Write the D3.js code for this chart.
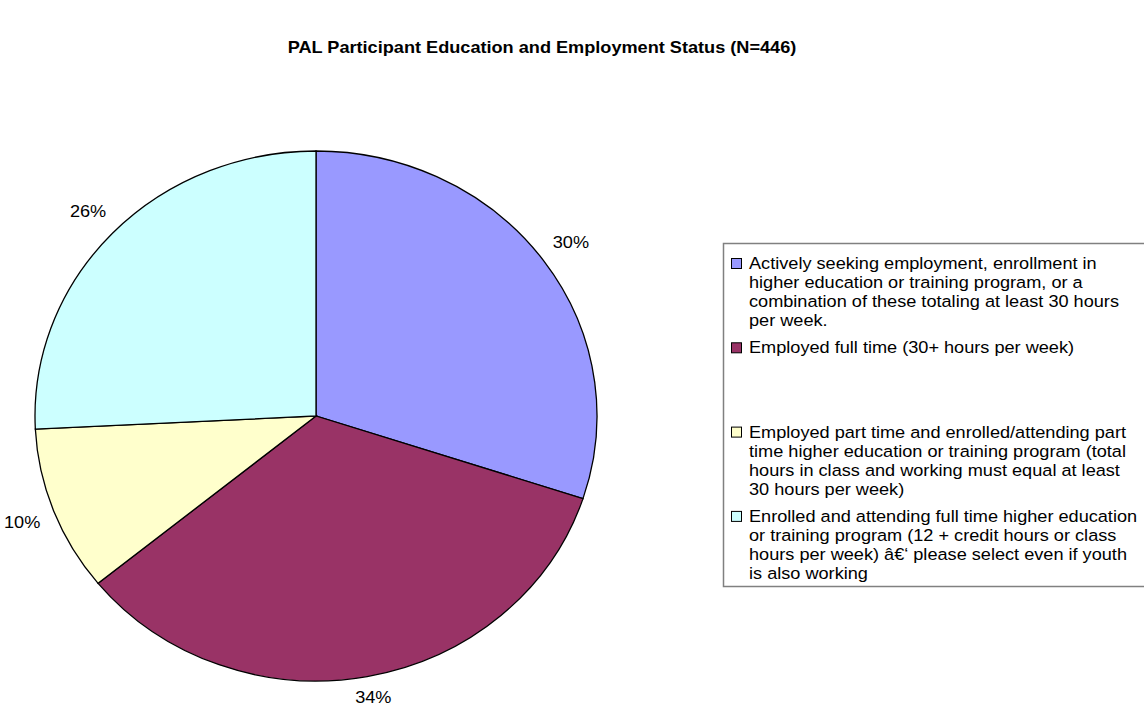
<!DOCTYPE html>
<html>
<head>
<meta charset="utf-8">
<script src="https://cdn.jsdelivr.net/npm/d3@7"></script>
<style>
  body { margin: 0; background: #fff; }
  text { font-family: Arial, "Liberation Sans", sans-serif; fill: #000; }
</style>
</head>
<body>
<div class="chart"></div>
<script>
const title = "PAL Participant Education and Employment Status (N=446)";
const categories = [
    "Actively seeking employment, enrollment in higher education or training program, or a combination of these totaling at least 30 hours per week.",
    "Employed full time (30+ hours per week)",
    "Employed part time and enrolled/attending part time higher education or training program (total hours in class and working must equal at least 30 hours per week)",
    "Enrolled and attending full time higher education or training program (12 + credit hours or class hours per week) â€‘ please select even if youth is also working"
];
const counts = [134, 152, 45, 115];
const colors = ["#9999FF", "#993366", "#FFFFCC", "#CCFFFF"];

const width = 1144;
const height = 706;
const cx = 316, cy = 416;
const rx = 281, ry = 265;   // the source pie is a little wider than tall
const sx = 1.1;             // text is stretched the same way
const fontSize = 16.5;

const svg = d3.select(".chart")
    .append("svg")
    .attr("width", width)
    .attr("height", height);

// draws text stretched horizontally around its anchor
function wideText(parent, x, y, str) {
    return parent.append("text")
        .attr("transform", "translate(" + x + "," + y + ") scale(" + sx + ",1)")
        .style("font-size", fontSize + "px")
        .text(str);
}

wideText(svg, 542, 53, title)
    .attr("text-anchor", "middle")
    .style("font-weight", "bold");

const total = d3.sum(counts);
const pie = d3.pie().sort(null).value(d => d);
const arcs = pie(counts);
const arc = d3.arc().innerRadius(0).outerRadius(ry);

const g = svg.append("g")
    .attr("transform", "translate(" + cx + "," + cy + ") scale(" + (rx / ry) + ",1)");

g.selectAll("path")
    .data(arcs)
    .enter()
    .append("path")
    .attr("d", arc)
    .attr("fill", (d, i) => colors[i])
    .attr("stroke", "#000")
    .attr("stroke-width", 1.3)
    .attr("vector-effect", "non-scaling-stroke");

const pct = d3.format(".0%");
const labelR = 1.12;
arcs.forEach(d => {
    const a = (d.startAngle + d.endAngle) / 2;
    const x = cx + rx * labelR * Math.sin(a);
    // keep labels inside the frame, as the source does at the bottom
    const y = Math.min(cy - ry * labelR * Math.cos(a) + 6, height - 3);
    wideText(svg, x, y, pct(d.value / total)).attr("text-anchor", "middle");
});

// legend
const legendX = 723, legendY = 243, legendW = 460, legendH = 343;
const slot = 84.3;
const maxLine = 392;

svg.append("rect")
    .attr("x", legendX + 0.5)
    .attr("y", legendY + 0.5)
    .attr("width", legendW)
    .attr("height", legendH)
    .attr("fill", "#fff")
    .attr("stroke", "#808080")
    .attr("stroke-width", 1.5);

const items = svg.selectAll(".legend-item")
    .data(categories)
    .enter()
    .append("g")
    .attr("class", "legend-item")
    .attr("transform", (d, i) => "translate(" + (legendX + 8) + "," + (legendY + 15 + i * slot) + ")");

items.append("rect")
    .attr("x", 0.5)
    .attr("y", 0.5)
    .attr("width", 10)
    .attr("height", 10)
    .attr("fill", (d, i) => colors[i])
    .attr("stroke", "#000")
    .attr("stroke-width", 1);

items.each(function (d) {
    const item = d3.select(this);
    const words = d.split(" ");
    let line = [];
    let row = 0;
    let t = wideText(item, 18, 11, "");
    words.forEach(w => {
        line.push(w);
        t.text(line.join(" "));
        if (t.node().getComputedTextLength() * sx > maxLine && line.length > 1) {
            line.pop();
            t.text(line.join(" "));
            row += 1;
            line = [w];
            t = wideText(item, 18, 11 + row * 19, w);
        }
    });
});
</script>
</body>
</html>
